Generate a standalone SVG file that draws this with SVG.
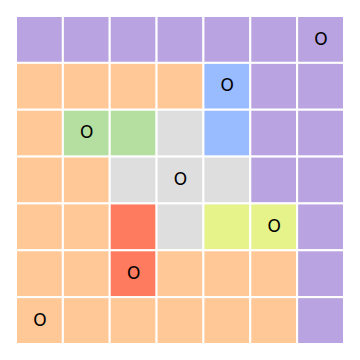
<svg xmlns="http://www.w3.org/2000/svg" width="360" height="360" viewBox="0 0 360 360">
<style>
rect{stroke:#fff;stroke-width:2}
.p{fill:#b9a3e0}.o{fill:#ffc896}.g{fill:#b4dfa0}.y{fill:#dedede}.b{fill:#99bbff}.r{fill:#ff7b5f}.l{fill:#e6f28a}
text{font-family:"DejaVu Sans","Liberation Sans",sans-serif;font-size:17px;fill:#000;text-anchor:middle}
</style>
<rect width="360" height="360" fill="#fff" stroke="none"/>
<g id="grid">
<rect class="p" x="16" y="16" width="46.857" height="46.857"/><rect class="p" x="62.857" y="16" width="46.857" height="46.857"/><rect class="p" x="109.714" y="16" width="46.857" height="46.857"/><rect class="p" x="156.571" y="16" width="46.857" height="46.857"/><rect class="p" x="203.429" y="16" width="46.857" height="46.857"/><rect class="p" x="250.286" y="16" width="46.857" height="46.857"/><rect class="p" x="297.143" y="16" width="46.857" height="46.857"/>
<rect class="o" x="16" y="62.857" width="46.857" height="46.857"/><rect class="o" x="62.857" y="62.857" width="46.857" height="46.857"/><rect class="o" x="109.714" y="62.857" width="46.857" height="46.857"/><rect class="o" x="156.571" y="62.857" width="46.857" height="46.857"/><rect class="b" x="203.429" y="62.857" width="46.857" height="46.857"/><rect class="p" x="250.286" y="62.857" width="46.857" height="46.857"/><rect class="p" x="297.143" y="62.857" width="46.857" height="46.857"/>
<rect class="o" x="16" y="109.714" width="46.857" height="46.857"/><rect class="g" x="62.857" y="109.714" width="46.857" height="46.857"/><rect class="g" x="109.714" y="109.714" width="46.857" height="46.857"/><rect class="y" x="156.571" y="109.714" width="46.857" height="46.857"/><rect class="b" x="203.429" y="109.714" width="46.857" height="46.857"/><rect class="p" x="250.286" y="109.714" width="46.857" height="46.857"/><rect class="p" x="297.143" y="109.714" width="46.857" height="46.857"/>
<rect class="o" x="16" y="156.571" width="46.857" height="46.857"/><rect class="o" x="62.857" y="156.571" width="46.857" height="46.857"/><rect class="y" x="109.714" y="156.571" width="46.857" height="46.857"/><rect class="y" x="156.571" y="156.571" width="46.857" height="46.857"/><rect class="y" x="203.429" y="156.571" width="46.857" height="46.857"/><rect class="p" x="250.286" y="156.571" width="46.857" height="46.857"/><rect class="p" x="297.143" y="156.571" width="46.857" height="46.857"/>
<rect class="o" x="16" y="203.429" width="46.857" height="46.857"/><rect class="o" x="62.857" y="203.429" width="46.857" height="46.857"/><rect class="r" x="109.714" y="203.429" width="46.857" height="46.857"/><rect class="y" x="156.571" y="203.429" width="46.857" height="46.857"/><rect class="l" x="203.429" y="203.429" width="46.857" height="46.857"/><rect class="l" x="250.286" y="203.429" width="46.857" height="46.857"/><rect class="p" x="297.143" y="203.429" width="46.857" height="46.857"/>
<rect class="o" x="16" y="250.286" width="46.857" height="46.857"/><rect class="o" x="62.857" y="250.286" width="46.857" height="46.857"/><rect class="r" x="109.714" y="250.286" width="46.857" height="46.857"/><rect class="o" x="156.571" y="250.286" width="46.857" height="46.857"/><rect class="o" x="203.429" y="250.286" width="46.857" height="46.857"/><rect class="o" x="250.286" y="250.286" width="46.857" height="46.857"/><rect class="p" x="297.143" y="250.286" width="46.857" height="46.857"/>
<rect class="o" x="16" y="297.143" width="46.857" height="46.857"/><rect class="o" x="62.857" y="297.143" width="46.857" height="46.857"/><rect class="o" x="109.714" y="297.143" width="46.857" height="46.857"/><rect class="o" x="156.571" y="297.143" width="46.857" height="46.857"/><rect class="o" x="203.429" y="297.143" width="46.857" height="46.857"/><rect class="o" x="250.286" y="297.143" width="46.857" height="46.857"/><rect class="p" x="297.143" y="297.143" width="46.857" height="46.857"/>
</g>
<g id="labels">
<text x="321" y="44.6">O</text>
<text x="227.3" y="91.4">O</text>
<text x="86.7" y="138.3">O</text>
<text x="180.5" y="184.9">O</text>
<text x="274.2" y="232">O</text>
<text x="133.6" y="278.8">O</text>
<text x="39.9" y="325.6">O</text>
</g>
</svg>
